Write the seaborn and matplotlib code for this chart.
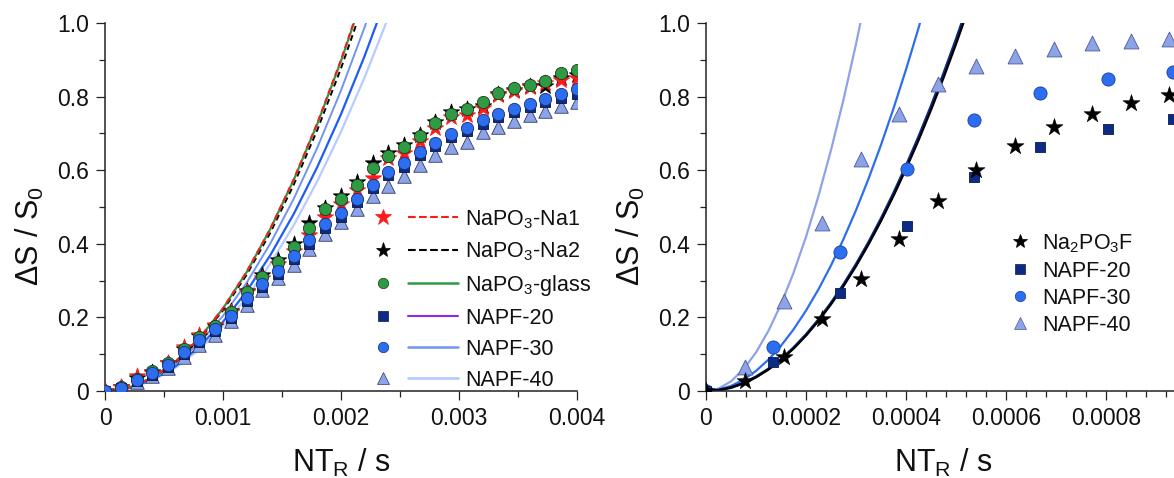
import numpy as np
import pandas as pd
import matplotlib
matplotlib.use('Agg')
import matplotlib.pyplot as plt
import seaborn as sns
from matplotlib.lines import Line2D
from matplotlib.legend_handler import HandlerBase
from matplotlib.ticker import FixedLocator, MultipleLocator

# ---------------- data ----------------
# Left panel: NaPO3 samples and NAPF glasses, x = NT_R (s)
left_x = [0.0, 0.000133, 0.000267, 0.0004, 0.000533, 0.000667, 0.0008, 0.000933,
          0.001067, 0.0012, 0.001333, 0.001467, 0.0016, 0.001733, 0.001867, 0.002,
          0.002133, 0.002267, 0.0024, 0.002533, 0.002667, 0.0028, 0.002933, 0.003067,
          0.0032, 0.003333, 0.003467, 0.0036, 0.003733, 0.003867, 0.004]
na1_y = [0, 0.010, 0.042, 0.050, 0.075, 0.119, 0.152, 0.179, 0.216, 0.268, 0.308,
         0.345, 0.380, 0.425, 0.474, 0.508, 0.547, 0.578, 0.632, 0.646, 0.680, 0.714,
         0.745, 0.750, 0.768, 0.805, 0.816, 0.827, 0.836, 0.845, 0.850]
na2_y = [0, 0.010, 0.035, 0.052, 0.076, 0.115, 0.150, 0.177, 0.218, 0.272, 0.315,
         0.355, 0.400, 0.457, 0.497, 0.530, 0.568, 0.619, 0.648, 0.668, 0.695, 0.732,
         0.757, 0.765, 0.775, 0.808, 0.818, 0.830, 0.830, 0.850, 0.860]
glass_y = [0, 0.010, 0.032, 0.053, 0.075, 0.113, 0.148, 0.176, 0.216, 0.270, 0.311,
           0.350, 0.392, 0.442, 0.494, 0.523, 0.561, 0.605, 0.639, 0.664, 0.693, 0.727,
           0.753, 0.765, 0.786, 0.811, 0.824, 0.832, 0.843, 0.865, 0.872]
napf20_y = [0, 0.007, 0.027, 0.044, 0.066, 0.100, 0.133, 0.162, 0.198, 0.244, 0.282,
            0.317, 0.358, 0.400, 0.443, 0.472, 0.514, 0.551, 0.586, 0.610, 0.640, 0.666,
            0.690, 0.706, 0.726, 0.745, 0.757, 0.771, 0.784, 0.797, 0.808]
napf30_y = [0, 0.008, 0.030, 0.048, 0.070, 0.106, 0.139, 0.168, 0.205, 0.252, 0.290,
            0.325, 0.368, 0.410, 0.454, 0.483, 0.522, 0.560, 0.596, 0.620, 0.649, 0.675,
            0.698, 0.714, 0.736, 0.753, 0.766, 0.780, 0.793, 0.806, 0.820]
napf40_y = [0, 0.006, 0.024, 0.040, 0.062, 0.093, 0.126, 0.152, 0.190, 0.234, 0.274,
            0.306, 0.342, 0.385, 0.427, 0.458, 0.494, 0.530, 0.558, 0.584, 0.614, 0.641,
            0.664, 0.677, 0.705, 0.718, 0.735, 0.749, 0.762, 0.774, 0.786]

# Left panel fit curves
left_fit_x = [0.0, 0.0002, 0.0004, 0.0006, 0.0008, 0.001, 0.0012, 0.0014, 0.0016,
              0.0018, 0.002, 0.0022, 0.0024, 0.0026]
fit_na1 = [0, 0.0090, 0.0360, 0.0810, 0.1440, 0.2250, 0.3241, 0.4411, 0.5761, 0.7291,
           0.9002, 1.0892, 1.2963, 1.5213]
fit_na2 = [0, 0.0088, 0.0351, 0.0789, 0.1403, 0.2192, 0.3156, 0.4296, 0.5611, 0.7101,
           0.8767, 1.0608, 1.2625, 1.4816]
fit_glass = [0, 0.0090, 0.0359, 0.0807, 0.1435, 0.2242, 0.3228, 0.4394, 0.5739, 0.7264,
             0.8968, 1.0851, 1.2913, 1.5155]
fit_l_mid = [0, 0.0082, 0.0327, 0.0735, 0.1307, 0.2042, 0.2940, 0.4002, 0.5227, 0.6616,
             0.8168, 0.9883, 1.1761, 1.3803]
fit_l_bright = [0, 0.0075, 0.0301, 0.0677, 0.1204, 0.1881, 0.2708, 0.3686, 0.4814, 0.6093,
                0.7522, 0.9102, 1.0832, 1.2712]
fit_l_light = [0, 0.0070, 0.0282, 0.0634, 0.1127, 0.1761, 0.2536, 0.3452, 0.4508, 0.5706,
               0.7044, 0.8523, 1.0143, 1.1904]

# Right panel: Na2PO3F and NAPF samples
right_x_a = [0.0, 0.0000772, 0.000155, 0.000232, 0.000309, 0.000386, 0.000463, 0.00054,
             0.000617, 0.000695, 0.000772, 0.000849, 0.000925]
right_x_b = [0.0, 0.000133, 0.000268, 0.000401, 0.000535, 0.000668, 0.000803, 0.000933]
na2po3f_y = [0, 0.028, 0.093, 0.195, 0.303, 0.413, 0.515, 0.601, 0.667, 0.718, 0.754,
             0.782, 0.804]
r_napf20_y = [0, 0.078, 0.265, 0.449, 0.582, 0.664, 0.711, 0.740]
r_napf30_y = [0, 0.120, 0.379, 0.603, 0.737, 0.811, 0.848, 0.868]
r_napf40_y = [0, 0.066, 0.245, 0.457, 0.630, 0.754, 0.833, 0.883, 0.911, 0.929, 0.945,
              0.951, 0.956]

right_fit_x = [0.0, 0.000025, 0.00005, 0.000075, 0.0001, 0.000125, 0.00015, 0.000175,
               0.0002, 0.000225, 0.00025, 0.000275, 0.0003, 0.000325, 0.00035, 0.000375,
               0.0004, 0.000425, 0.00045, 0.000475, 0.0005, 0.000525]
rfit_na2po3f = [0, 0.0024, 0.0094, 0.0212, 0.0377, 0.0589, 0.0848, 0.1155, 0.1508, 0.1909,
                0.2357, 0.2851, 0.3393, 0.3983, 0.4619, 0.5302, 0.6033, 0.6810, 0.7635,
                0.8507, 0.9426, 1.0392]
rfit_napf20 = [0, 0.0024, 0.0095, 0.0215, 0.0382, 0.0596, 0.0858, 0.1168, 0.1526, 0.1931,
               0.2384, 0.2885, 0.3433, 0.4029, 0.4673, 0.5364, 0.6104, 0.6890, 0.7725,
               0.8607, 0.9537, 1.0514]
rfit_napf30 = [0, 0.0034, 0.0137, 0.0307, 0.0546, 0.0853, 0.1228, 0.1672, 0.2184, 0.2764,
               0.3412, 0.4128, 0.4913, 0.5766, 0.6687, 0.7677, 0.8734, 0.9860, 1.1055,
               1.2317, 1.3648, 1.5047]
rfit_napf40 = [0, 0.0065, 0.0262, 0.0589, 0.1047, 0.1637, 0.2357, 0.3207, 0.4189, 0.5302,
               0.6546, 0.7920, 0.9426, 1.1062, 1.2830, 1.4728, 1.6757, 1.8917, 2.1208,
               2.3630, 2.6183, 2.8867]

left_xticks = [0, 0.001, 0.002, 0.003, 0.004]
left_xticklabels = ['0', '0.001', '0.002', '0.003', '0.004']
right_xticks = [0, 0.0002, 0.0004, 0.0006, 0.0008]
right_xticklabels = ['0', '0.0002', '0.0004', '0.0006', '0.0008']
yticks = [0, 0.2, 0.4, 0.6, 0.8, 1.0]
yticklabels = ['0', '0.2', '0.4', '0.6', '0.8', '1.0']

left_labels = ['NaPO$_3$-Na1', 'NaPO$_3$-Na2', 'NaPO$_3$-glass', 'NAPF-20', 'NAPF-30', 'NAPF-40']
right_labels = ['Na$_2$PO$_3$F', 'NAPF-20', 'NAPF-30', 'NAPF-40']

# ---------------- style ----------------
sns.set_theme(style='ticks')
plt.rcParams['font.family'] = ['Liberation Sans', 'DejaVu Sans']
plt.rcParams['mathtext.fontset'] = 'custom'
plt.rcParams['mathtext.rm'] = 'Liberation Sans'
plt.rcParams['mathtext.it'] = 'Liberation Sans:italic'
plt.rcParams['mathtext.bf'] = 'Liberation Sans:bold'
plt.rcParams['text.color'] = '#111111'
plt.rcParams['axes.labelcolor'] = '#111111'
plt.rcParams['xtick.color'] = '#111111'
plt.rcParams['ytick.color'] = '#111111'

C_RED = '#ff1a1a'
C_BLACK = '#000000'
C_GREEN = '#2e9a44'
C_NAVY = '#0d2a85'
C_BLUE = '#2d6ef0'
C_TRI = '#8da3e8'
C_PURPLE = '#8a2be2'
C_MIDLINE = '#6f95f2'
C_BRIGHT = '#1d5cf5'
C_LIGHTLINE = '#b6cbff'

fig = plt.figure(figsize=(11.74, 4.78), dpi=100)
W, H = 1174, 478
axL = fig.add_axes([105 / W, 1 - 391 / H, (577 - 105) / W, (391 - 23) / H])
axR = fig.add_axes([706 / W, 1 - 391 / H, 475 / W, (391 - 23) / H])

# ---------------- left panel ----------------
line_specs = [
    (fit_l_light, C_LIGHTLINE, '-', 1.6),
    (fit_l_bright, C_BRIGHT, '-', 1.6),
    (fit_l_mid, C_MIDLINE, '-', 1.4),
    (fit_na2, C_BLACK, (0, (3, 2)), 1.4),
    (fit_glass, C_GREEN, '-', 1.6),
    (fit_na1, C_RED, (0, (3, 2)), 1.4),
]
for ys, c, ls, lw in line_specs:
    sns.lineplot(x=left_fit_x, y=ys, ax=axL, color=c, linestyle=ls, linewidth=lw,
                 sort=False, estimator=None, zorder=2)

sc_specs_left = [
    (na2_y, '*', C_BLACK, C_BLACK, 150, 3),
    (na1_y, '*', C_RED, C_RED, 150, 3.1),
    (glass_y, 'o', C_GREEN, '#1c3a1c', 78, 3.2),
    (napf40_y, '^', C_TRI, '#2e3a66', 95, 3.3),
    (napf20_y, 's', C_NAVY, '#0a1440', 52, 3.4),
    (napf30_y, 'o', C_BLUE, '#15306e', 78, 3.5),
]
for ys, mk, fc, ec, s, z in sc_specs_left:
    sns.scatterplot(x=left_x, y=ys, ax=axL, marker=mk, color=fc, edgecolor=ec,
                    s=s, linewidth=0.6, zorder=z, legend=False)

# ---------------- right panel ----------------
for ys, c, lw in [(rfit_napf40, C_TRI, 1.6), (rfit_napf30, C_BLUE, 1.6),
                  (rfit_napf20, C_NAVY, 2.2), (rfit_na2po3f, C_BLACK, 1.6)]:
    sns.lineplot(x=right_fit_x, y=ys, ax=axR, color=c, linewidth=lw,
                 sort=False, estimator=None, zorder=2)

sns.scatterplot(x=right_x_a, y=r_napf40_y, ax=axR, marker='^', color=C_TRI,
                edgecolor='#4a5a99', s=115, linewidth=0.6, zorder=3, legend=False)
sns.scatterplot(x=right_x_b, y=r_napf30_y, ax=axR, marker='o', color=C_BLUE,
                edgecolor='#1a3e9e', s=90, linewidth=0.6, zorder=3, legend=False)
sns.scatterplot(x=right_x_b, y=r_napf20_y, ax=axR, marker='s', color=C_NAVY,
                edgecolor='#081a55', s=62, linewidth=0.6, zorder=3, legend=False)
sns.scatterplot(x=right_x_a, y=na2po3f_y, ax=axR, marker='*', color=C_BLACK,
                edgecolor=C_BLACK, s=165, linewidth=0.4, zorder=4, legend=False)

# ---------------- axes formatting ----------------
for ax, xt, xtl, xlim, xminor in [(axL, left_xticks, left_xticklabels, (0, 0.004), 0.0005),
                                   (axR, right_xticks, right_xticklabels, (0, 0.00095), 0.00004)]:
    ax.set_xlim(*xlim)
    ax.set_ylim(0, 1.0)
    ax.xaxis.set_major_locator(FixedLocator(xt))
    ax.set_xticklabels(xtl)
    ax.xaxis.set_minor_locator(MultipleLocator(xminor))
    ax.yaxis.set_major_locator(FixedLocator(yticks))
    ax.set_yticklabels(yticklabels)
    ax.yaxis.set_minor_locator(MultipleLocator(0.1))
    ax.tick_params(which='major', direction='out', length=6.5, width=0.9, labelsize=16.5,
                   color='#222222', labelcolor='#111111', pad=5)
    ax.tick_params(which='minor', direction='out', length=4, width=0.9, color='#222222')
    for sp in ['top', 'right']:
        ax.spines[sp].set_visible(False)
    for sp in ['left', 'bottom']:
        ax.spines[sp].set_linewidth(1.1)
        ax.spines[sp].set_color('#222222')
    ax.set_facecolor('white')
    ax.set_xlabel('NT$_\\mathrm{R}$ / s', fontsize=22, labelpad=12)
    ax.set_ylabel('\u0394S / S$_0$', fontsize=22, labelpad=8)
    ax.yaxis.label.set_y(0.42)


# ---------------- legends ----------------
class MarkerLineHandler(HandlerBase):
    def __init__(self, mfrac=0.13, lstart=0.42, **kw):
        super().__init__(**kw)
        self.mfrac = mfrac
        self.lstart = lstart

    def create_artists(self, legend, orig_handle, xdescent, ydescent, width, height,
                       fontsize, trans):
        mk, ln = orig_handle
        y = (height - ydescent) / 2.0
        m = Line2D([-xdescent + width * self.mfrac], [y], linestyle='none',
                   marker=mk.get_marker(), markersize=mk.get_markersize(),
                   markerfacecolor=mk.get_markerfacecolor(),
                   markeredgecolor=mk.get_markeredgecolor(),
                   markeredgewidth=mk.get_markeredgewidth())
        l = Line2D([-xdescent + width * self.lstart, -xdescent + width], [y, y],
                   color=ln.get_color(), linestyle=ln.get_linestyle(),
                   linewidth=ln.get_linewidth())
        m.set_transform(trans)
        l.set_transform(trans)
        return [m, l]


def mproxy(mk, fc, ec, ms):
    return Line2D([], [], linestyle='none', marker=mk, markersize=ms,
                  markerfacecolor=fc, markeredgecolor=ec, markeredgewidth=0.5)


def lproxy(c, ls, lw=1.5):
    return Line2D([], [], color=c, linestyle=ls, linewidth=lw)


left_handles = [
    (mproxy('*', C_RED, C_RED, 12), lproxy(C_RED, (0, (3, 2)))),
    (mproxy('*', C_BLACK, C_BLACK, 11), lproxy(C_BLACK, (0, (3, 2)))),
    (mproxy('o', C_GREEN, '#1c3a1c', 7.5), lproxy(C_GREEN, '-', 1.8)),
    (mproxy('s', C_NAVY, '#0a1440', 6.5), lproxy(C_PURPLE, '-')),
    (mproxy('o', C_BLUE, '#15306e', 7.5), lproxy(C_MIDLINE, '-', 1.8)),
    (mproxy('^', C_TRI, '#2e3a66', 8), lproxy(C_LIGHTLINE, '-', 2.0)),
]
legL = fig.legend(handles=left_handles, labels=left_labels,
                  handler_map={tuple: MarkerLineHandler()},
                  loc='upper left', bbox_to_anchor=(372 / W, 1 - 208 / H),
                  frameon=False, fontsize=15.5, handlelength=4.0, handletextpad=0.33,
                  labelspacing=0.46, borderpad=0, borderaxespad=0)

right_handles = [
    mproxy('*', C_BLACK, C_BLACK, 10.5),
    mproxy('s', C_NAVY, '#081a55', 6.5),
    mproxy('o', C_BLUE, '#1a3e9e', 7.5),
    mproxy('^', C_TRI, '#4a5a99', 8),
]
legR = fig.legend(handles=right_handles, labels=right_labels, loc='upper left',
                  bbox_to_anchor=(1009 / W, 1 - 232 / H), frameon=False,
                  fontsize=15.5, handlelength=1.0, handletextpad=0.53,
                  labelspacing=0.28, borderpad=0, borderaxespad=0, numpoints=1)

fig.savefig('out.png', dpi=100, facecolor='white')
